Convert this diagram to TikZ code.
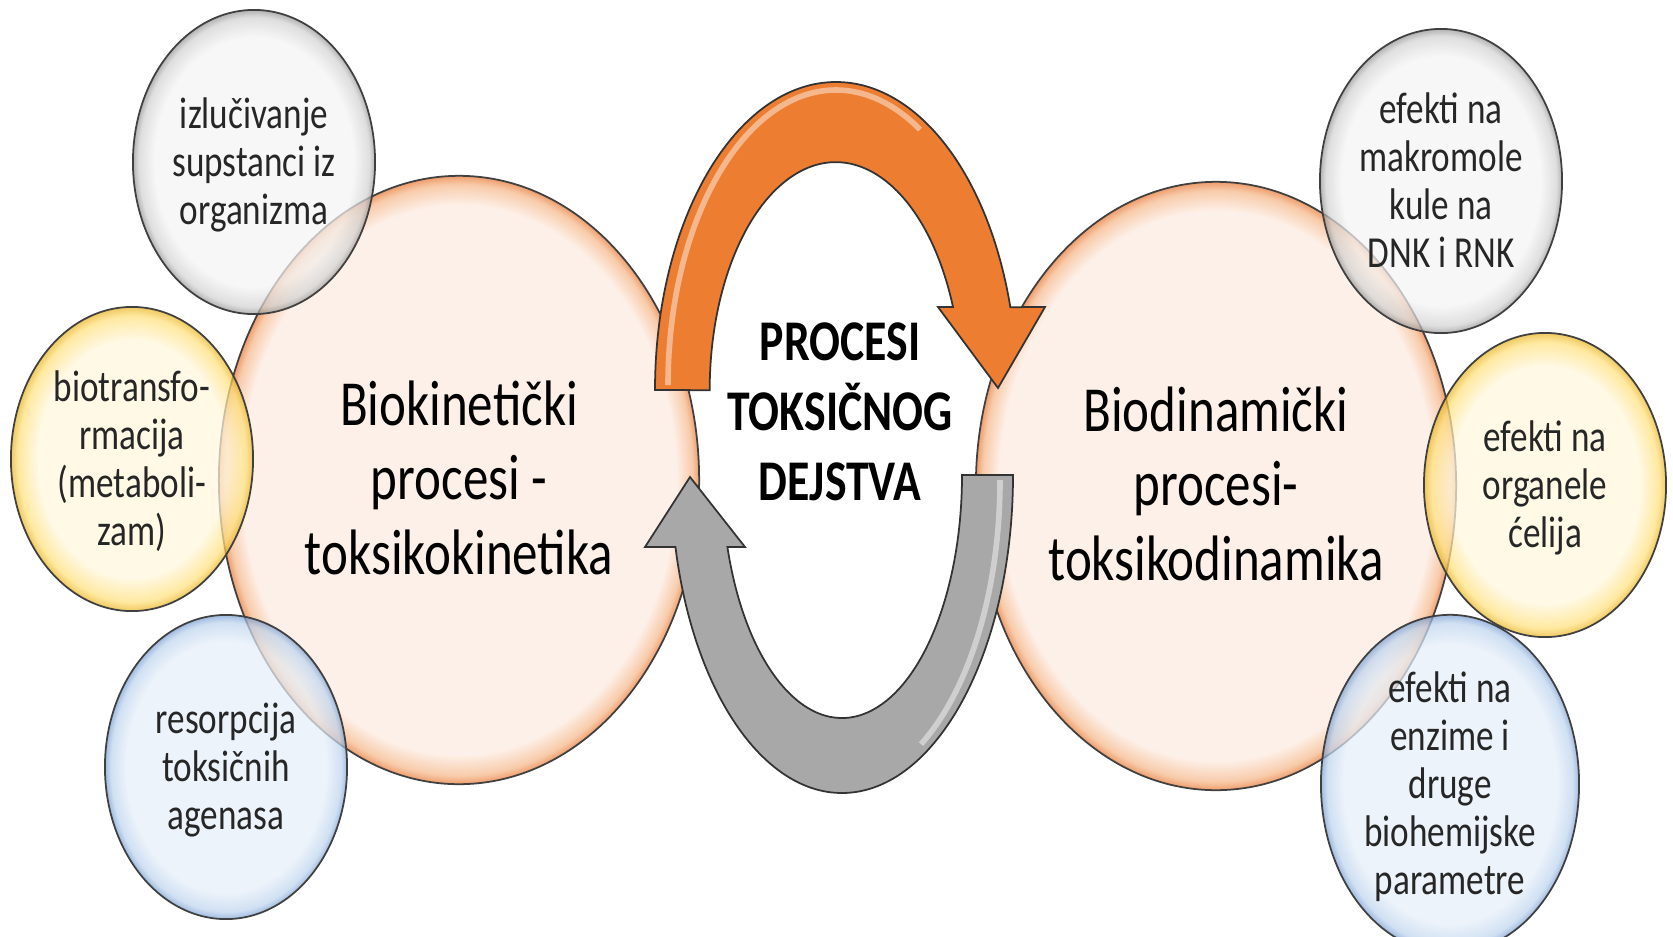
\documentclass[tikz,border=0pt]{standalone}
\usepackage{fontspec}
\setmainfont{Carlito}
\usetikzlibrary{shapes.geometric}

\definecolor{peachin}{HTML}{FDF0E8}
\definecolor{peachmid}{HTML}{F8CBAA}
\definecolor{peachrim}{HTML}{EE9D6C}
\definecolor{greyin}{HTML}{F4F4F4}
\definecolor{greymid}{HTML}{D2D2D2}
\definecolor{greyrim}{HTML}{959595}
\definecolor{goldin}{HTML}{FFF7DD}
\definecolor{goldmid}{HTML}{FFE07C}
\definecolor{goldrim}{HTML}{E8B423}
\definecolor{skyin}{HTML}{E6EFF9}
\definecolor{skymid}{HTML}{BED4EE}
\definecolor{skyrim}{HTML}{7A9FD2}
\definecolor{arrorange}{HTML}{ED7D31}
\definecolor{arrgrey}{HTML}{A8A8A8}

% edge of the filled shape sits at 25bp
\pgfdeclareradialshading{peachball}{\pgfpoint{0bp}{0bp}}{color(0bp)=(peachin); color(22.6bp)=(peachin); color(24.3bp)=(peachmid); color(25bp)=(peachrim); color(50bp)=(peachrim)}
\pgfdeclareradialshading{greyball}{\pgfpoint{0bp}{0bp}}{color(0bp)=(greyin); color(20.5bp)=(greyin); color(23.8bp)=(greymid); color(25bp)=(greyrim); color(50bp)=(greyrim)}
\pgfdeclareradialshading{goldball}{\pgfpoint{0bp}{0bp}}{color(0bp)=(goldin); color(19.5bp)=(goldin); color(23.5bp)=(goldmid); color(25bp)=(goldrim); color(50bp)=(goldrim)}
\pgfdeclareradialshading{skyball}{\pgfpoint{0bp}{0bp}}{color(0bp)=(skyin); color(20.5bp)=(skyin); color(23.8bp)=(skymid); color(25bp)=(skyrim); color(50bp)=(skyrim)}

% text is stretched upwards like the rest of the picture
\newcommand{\tallbox}[1]{\raisebox{-0.05cm}[\height][\depth]{\scalebox{1}[1.26]{\begin{tabular}{@{}c@{}}#1\end{tabular}}}}

\begin{document}
\begin{tikzpicture}[x=0.01cm, y=-0.01cm,
  big/.style={ellipse, draw=black!75, line width=0.5pt, shading=peachball,
    minimum width=4.8cm, minimum height=6.08cm, inner sep=0pt,
    font=\fontsize{14.5}{16.9}\selectfont},
  bubble/.style={ellipse, draw=black!75, line width=0.5pt, fill opacity=0.72,
    text opacity=1, minimum width=2.42cm, minimum height=3.04cm, inner sep=0pt,
    font=\fontsize{10}{10.8}\selectfont, text=black!85},
  grey/.style={bubble, shading=greyball},
  gold/.style={bubble, shading=goldball},
  sky/.style={bubble, shading=skyball},
  cyclearrow/.style={draw=black!80, line width=0.5pt},
  shine/.style={white, opacity=0.45, line width=1.6pt}
]
\useasboundingbox (0,0) rectangle (1673,936);

% the two main processes
\node[big] (kin) at (459,480) {\tallbox{Biokinetički\\procesi -\\toksikokinetika}};
\node[big] (din) at (1216,486) {\tallbox{Biodinamički\\procesi-\\toksikodinamika}};

% cycle arrows
\filldraw[cyclearrow, fill=arrorange] (655,390)
  arc[start angle=180, end angle=344.4, x radius=181, y radius=308]
  -- (1045,307) -- (998,388) -- (938,307) -- (953,307)
  arc[start angle=338.6, end angle=180, x radius=126, y radius=228] -- cycle;
\draw[shine] (668,385) arc[start angle=180, end angle=300, x radius=168, y radius=295];
\filldraw[cyclearrow, fill=arrgrey] (1013,475)
  arc[start angle=0, end angle=166.9, x radius=171, y radius=318]
  -- (645,547) -- (690,477) -- (745,547) -- (727.4,547)
  arc[start angle=162.76, end angle=0, x radius=120, y radius=243] -- cycle;
\draw[shine] (1000,480) arc[start angle=0, end angle=60, x radius=158, y radius=305];

\node[font=\bfseries\fontsize{13}{15.8}\selectfont] (title) at (840,411)
  {\tallbox{PROCESI\\TOKSIČNOG\\DEJSTVA}};

% toxicokinetics
\node[grey] (izl) at (254,162) {\tallbox{izlučivanje\\supstanci iz\\organizma}};
\node[gold] (bio) at (132,459) {\tallbox{biotransfo-\\rmacija\\(metaboli-\\zam)}};
\node[sky] (res) at (226,767) {\tallbox{resorpcija\\toksičnih\\agenasa}};

% toxicodynamics
\node[grey] (mak) at (1441,181) {\tallbox{efekti na\\makromole\\kule na\\DNK i RNK}};
\node[gold] (org) at (1545,485) {\tallbox{efekti na\\organele\\ćelija}};
\node[sky, minimum width=2.58cm] (enz) at (1450,784)
  {\tallbox{efekti na\\enzime i\\druge\\biohemijske\\parametre}};

\end{tikzpicture}
\end{document}
